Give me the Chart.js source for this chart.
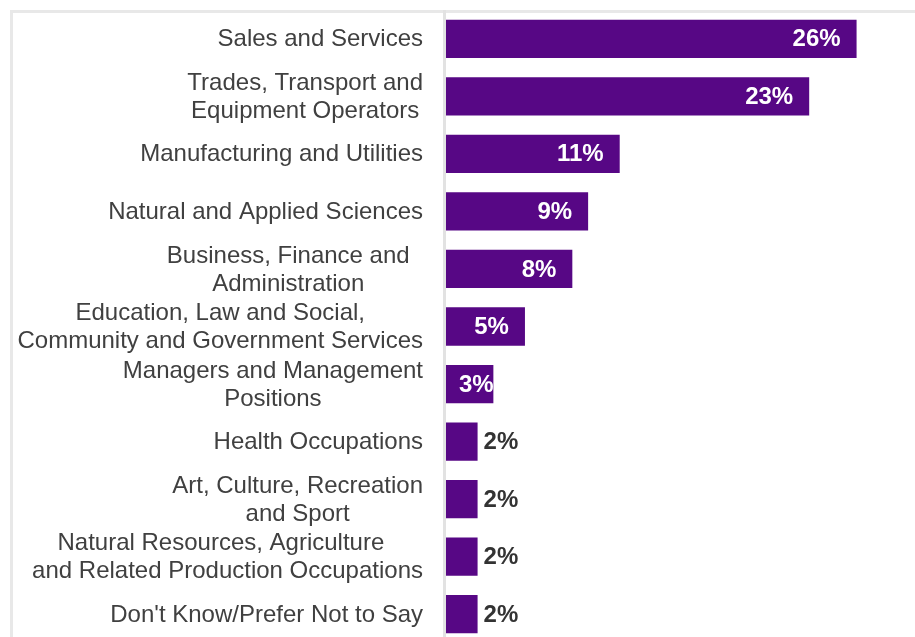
<!DOCTYPE html>
<html>
<head>
<meta charset="utf-8">
<script src="https://cdn.jsdelivr.net/npm/chart.js@4/dist/chart.umd.min.js"></script>
<style>
  html, body { margin: 0; padding: 0; background: #fff; }
  #wrap { position: relative; width: 915px; height: 637px; overflow: hidden; }
  /* light frame around the chart body, open at the bottom and right */
  #panel {
    position: absolute; left: 10px; top: 10px; right: -10px; bottom: -10px;
    border-top: 3px solid #e8e8e8; border-left: 3px solid #e8e8e8;
  }
  #chart { position: absolute; left: 0; top: 0; }
</style>
</head>
<body>
<div id="wrap">
  <div id="panel"></div>
  <canvas id="chart" width="915" height="646"></canvas>
</div>
<script>
// occupation groups, one line per array entry
const categories = [
  ["Sales and Services"],
  ["Trades, Transport and", "Equipment Operators"],
  ["Manufacturing and Utilities"],
  ["Natural and Applied Sciences"],
  ["Business, Finance and  ", "Administration  "],
  ["Education, Law and Social,", "Community and Government Services"],
  ["Managers and Management", "Positions"],
  ["Health Occupations"],
  ["Art, Culture, Recreation", "and Sport"],
  ["Natural Resources, Agriculture  ", "and Related Production Occupations"],
  ["Don't Know/Prefer Not to Say"]
];

// share of respondents (%)
const shares = [26, 23, 11, 9, 8, 5, 3, 2, 2, 2, 2];

const BAR_COLOR = "#570785";
const LABEL_FONT = "24px 'Liberation Sans', Arial, sans-serif";
const VALUE_FONT = "bold 24px 'Liberation Sans', Arial, sans-serif";

// axis line plus the centred multi-line category names left of the bars
const categoryLabels = {
  id: "categoryLabels",
  beforeDatasetsDraw(chart) {
    const { ctx, chartArea, scales } = chart;
    ctx.save();
    ctx.fillStyle = "#e2e2e2";
    ctx.fillRect(chartArea.left - 3, chartArea.top, 3, chartArea.bottom - chartArea.top);

    ctx.font = LABEL_FONT;
    ctx.fillStyle = "#404040";
    ctx.textAlign = "center";
    ctx.textBaseline = "middle";
    const right = chartArea.left - 23;
    const lineH = 28;
    categories.forEach((lines, i) => {
      const y = scales.y.getPixelForValue(i);
      const w = Math.max(...lines.map(l => ctx.measureText(l).width));
      const cx = right - w / 2;
      lines.forEach((line, j) => {
        ctx.fillText(line, cx, y + 1 + (j - (lines.length - 1) / 2) * lineH);
      });
    });
    ctx.restore();
  }
};

// percentage labels: white inside the bar, dark beside the short ones
const valueLabels = {
  id: "valueLabels",
  afterDatasetsDraw(chart) {
    const { ctx } = chart;
    const meta = chart.getDatasetMeta(0);
    ctx.save();
    ctx.font = VALUE_FONT;
    ctx.textBaseline = "middle";
    meta.data.forEach((bar, i) => {
      const text = shares[i] + "%";
      const w = ctx.measureText(text).width;
      if (shares[i] >= 3) {
        ctx.fillStyle = "#ffffff";
        ctx.textAlign = "right";
        ctx.fillText(text, Math.max(bar.x - 16, bar.base + 13 + w), bar.y + 1);
      } else {
        ctx.fillStyle = "#333333";
        ctx.textAlign = "left";
        ctx.fillText(text, bar.x + 6, bar.y + 1);
      }
    });
    ctx.restore();
  }
};

new Chart(document.getElementById("chart"), {
  type: "bar",
  data: {
    labels: categories,
    datasets: [{
      data: shares,
      backgroundColor: BAR_COLOR,
      borderWidth: 0,
      barPercentage: 0.665,
      categoryPercentage: 1
    }]
  },
  options: {
    indexAxis: "y",
    responsive: false,
    animation: false,
    devicePixelRatio: 1,
    layout: { padding: { top: 10, bottom: 3, left: 0, right: 0 } },
    scales: {
      x: { display: false, min: 0, max: 29.7 },
      y: {
        ticks: { display: false },
        grid: { display: false },
        border: { display: false },
        afterFit(scale) { scale.width = 446; }
      }
    },
    plugins: {
      legend: { display: false },
      tooltip: { enabled: false }
    }
  },
  plugins: [categoryLabels, valueLabels]
});
</script>
</body>
</html>
